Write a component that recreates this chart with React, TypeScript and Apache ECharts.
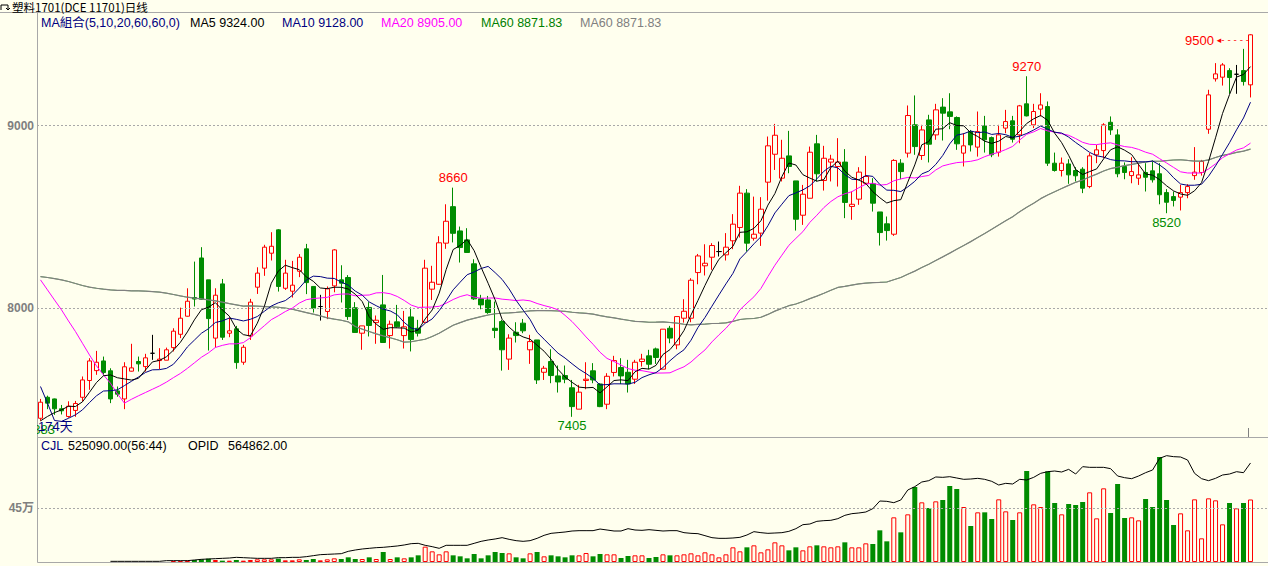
import { useEffect, useRef } from 'react';
import * as echarts from 'echarts';

const BG = '#FFFFEE';
const RED = '#FF0000';
const GREEN = '#008C00';
const NAVY = '#000080';
const FRAME = '#A8A8A8';
const FONT = '"Liberation Sans", Arial, sans-serif';
const CJK = '"Noto Sans CJK SC", sans-serif';

const opens = [7397,7512,7503,7449,7407,7440,7512,7604,7658,7711,
7657,7547,7503,7655,7708,7680,7753,7713,7715,7784,
7857,7956,8058,8275,8155,7836,8133,7863,7887,7704,
7848,8115,8219,8301,8429,8109,8093,8202,8325,8119,
8009,7982,8122,8155,8168,8002,7863,8004,7921,8018,
7850,7925,7850,7952,7890,7923,8104,8131,8356,8556,
8423,8374,8243,8051,8045,7890,7927,7721,7868,7918,
7772,7826,7649,7708,7629,7631,7564,7447,7604,7657,
7585,7474,7648,7675,7649,7611,7708,7739,7777,7666,
7890,7799,7945,7945,8195,8232,8279,8310,8292,8369,
8442,8630,8383,8411,8690,8843,8712,8834,8697,8509,
8602,8900,8699,8800,8776,8800,8557,8597,8684,8681,
8527,8462,8405,8794,8849,9004,8836,9031,8949,9101,
9075,9044,8849,8967,8882,8998,8934,8854,8986,9026,
8949,9119,9004,9090,9104,8794,8754,8790,8754,8761,
8666,8840,8863,9018,8949,8776,8726,8712,8743,8752,
8736,8633,8611,8608,8633,8726,8743,8980,9256,9265,
9301,9281,9301,9223];

const closes = [7485,7480,7449,7438,7463,7478,7607,7711,7704,7648,
7503,7529,7679,7673,7695,7728,7753,7721,7772,7874,
7945,8038,8050,8049,7943,8071,7841,7876,7702,7786,
8033,8192,8334,8339,8119,8192,8126,8279,8140,8000,
8009,8106,8319,8137,7954,7867,7903,7905,7934,7812,
7912,7898,7898,7828,7863,8219,8142,8358,8476,8410,
8332,8305,8051,8018,7976,7878,7772,7836,7850,7876,
7817,7607,7671,7631,7596,7611,7461,7540,7611,7607,
7461,7627,7713,7629,7585,7704,7721,7693,7730,7885,
7836,7954,7983,8153,8286,8246,8343,8310,8334,8460,
8630,8356,8405,8542,8889,8947,8821,8776,8487,8624,
8854,8736,8821,8816,8800,8579,8569,8745,8721,8575,
8414,8425,8809,8748,9055,8885,8976,8898,9086,9068,
9050,8900,8889,8894,8967,8922,8840,8949,9022,8925,
9108,9053,9077,9113,8794,8754,8794,8730,8725,8657,
8834,8867,9004,8976,8736,8743,8748,8730,8717,8703,
8621,8580,8590,8633,8666,8745,8803,9168,9283,9332,
9263,9281,9241,9497];

const lows = [7383,7447,7416,7418,7400,7405,7489,7553,7635,7630,
7480,7515,7447,7653,7653,7653,7717,7666,7715,7763,
7836,7954,8009,8045,7768,7784,7826,7841,7668,7690,
7826,8078,8177,8261,8091,8100,8058,8170,8077,7976,
7932,7940,8087,8031,7936,7867,7772,7845,7805,7812,
7779,7894,7779,7763,7845,7918,8045,8128,8325,8360,
8250,8305,8045,7994,7969,7836,7658,7662,7812,7863,
7695,7585,7607,7589,7538,7589,7405,7447,7556,7589,
7458,7447,7626,7585,7538,7585,7680,7666,7695,7666,
7808,7775,7921,7923,8131,8179,8210,8283,8261,8323,
8387,8310,8370,8341,8589,8757,8694,8739,8425,8456,
8602,8694,8644,8694,8666,8493,8484,8566,8675,8529,
8343,8370,8396,8706,8825,8840,8812,8798,8922,8918,
8980,8867,8776,8858,8830,8852,8827,8830,8958,8907,
8903,9050,8986,9050,8779,8748,8721,8681,8694,8630,
8657,8794,8821,8949,8717,8706,8684,8675,8639,8688,
8569,8520,8557,8535,8602,8703,8726,8955,9241,9219,
9174,9174,9219,9154];

const highs = [7503,7521,7505,7470,7490,7492,7626,7726,7766,7735,
7671,7571,7704,7805,7735,7750,7854,7781,7784,7890,
8003,8109,8255,8334,8155,8109,8160,7949,7903,7799,
8051,8224,8347,8416,8433,8265,8259,8296,8352,8119,
8073,8119,8323,8235,8181,8033,7903,8033,7960,8182,
7932,8018,7985,8004,7936,8265,8232,8394,8569,8660,
8447,8438,8268,8073,8067,8036,7936,7857,7923,7941,
7854,7826,7684,7775,7686,7686,7607,7580,7704,7699,
7589,7644,7739,7726,7717,7717,7750,7772,7784,7885,
7903,7954,8049,8164,8297,8350,8356,8365,8411,8515,
8670,8652,8611,8608,8940,9009,8922,8971,8697,8675,
8885,8949,8889,8840,8931,8871,8639,8772,8834,8712,
8527,8502,8816,8816,9110,9165,9004,9059,9119,9150,
9177,9050,8958,8976,9077,9053,8940,9004,9086,9053,
9113,9270,9119,9177,9132,8852,8825,8816,8772,8772,
8849,8894,9013,9050,8980,8798,8827,8794,8794,8809,
8794,8652,8639,8675,8679,8882,8812,9196,9342,9342,
9314,9332,9420,9500];

const volumes = [0,0,0,0,0,0,0,0,0,0,
0,0,0,0,0,0,0,0,0,8400,
8400,11200,16800,22400,28000,16800,11200,11200,16800,11200,
16800,22400,22400,22400,28000,14000,14000,22400,16800,25200,
14000,22400,30800,25200,39200,25200,25200,39200,25200,84000,
25200,39200,30800,39200,56000,128800,89600,64400,89600,56000,
47600,30800,67200,30800,56000,84000,75600,72800,39200,30800,
72800,84000,47600,56000,47600,39200,56000,56000,75600,47600,
67200,64400,64400,33600,50400,56000,56000,33600,42000,64400,
56000,56000,64400,72800,56000,81200,64400,39200,64400,123200,
89600,123200,140000,81200,106400,165200,140000,98000,123200,98000,
131600,140000,131600,123200,131600,165200,123200,123200,156800,151200,
266000,173600,375200,249200,400400,630000,501200,453600,509600,520800,
638400,613200,462000,302400,417200,417200,361200,526400,425600,352800,
417200,764400,484400,462000,761600,495600,400400,487200,478800,504000,
585200,366800,618800,411600,655200,369600,375200,350000,529200,462000,
882000,520800,310800,408800,266000,526400,198800,534800,518000,316400,
495600,450800,495600,525090];

const opid = [null,null,null,null,null,null,null,null,null,null,
3800,3800,3800,3800,3800,3800,3800,3800,7600,7600,
7600,7600,11400,15200,17100,19000,20900,22800,26600,24700,
22800,20900,20900,20900,24700,24700,26600,26600,30400,36100,
41800,43700,45600,47500,60800,68400,74200,78000,81800,83700,
87500,91300,97000,104600,106500,95100,87500,78000,95100,95100,
95100,95100,106500,117900,125500,131200,138800,129300,121700,117900,
121700,135000,152100,163500,167300,171100,176800,178700,178700,178700,
188000,182500,176800,176800,190100,182500,180600,184400,180600,176800,
178700,178700,167300,163500,161600,150200,138800,135000,135000,136900,
140700,154000,173000,167300,163500,165400,167300,174900,190100,212900,
216700,232000,235800,237700,247200,266200,275700,279500,285200,304200,
347900,346000,338400,353600,410700,429700,456300,463900,485000,482900,
486700,479100,471500,473400,477200,471500,460100,439200,448700,444900,
471500,467700,482900,505700,515200,519000,513300,528500,501900,543800,
540000,540000,540000,532400,490500,481000,475300,490500,509500,524800,
591300,606500,600800,598900,581800,505700,475300,463900,477200,496200,
501900,515200,509500,564862];

// moving-average values before enough visible history exists
const ma5Head = [7383, 7407, 7428, 7443];
const ma10Head = [7571, 7480, 7385, 7380, 7397, 7416, 7443, 7483, 7520];
const ma20Head = [8155, 8100, 8045, 7991, 7930, 7872, 7808, 7744, 7684, 7635,
  7589, 7531, 7480, 7501, 7520, 7538, 7556, 7574, 7595];
const ma60Head = [8173,8168,8162,8155,8146,8135,8124,8115,8109,8104,
8100,8097,8097,8095,8095,8093,8091,8088,8082,8075,
8067,8060,8055,8051,8045,8040,8033,8025,8018,8011,
8013,8011,8009,8007,8005,8000,7994,7985,7976,7967,
7958,7947,7940,7934,7925,7900,7885,7872,7859,7848,
7838,7827,7814,7816,7823,7830,7845,7863,7885];

const priceTicks = [8000, 9000];
const volTicks = [450000];
const volTickLabels = ['45万'];
const peakIdx = [59, 141];
const troughIdx = [0, 76, 161];
const arrowIdx = 173;

const legendItems = [
  { text: 'MA組合(5,10,20,60,60,0)', color: NAVY, x: 41 },
  { text: 'MA5 9324.00', color: '#000000', x: 190 },
  { text: 'MA10 9128.00', color: NAVY, x: 282 },
  { text: 'MA20 8905.00', color: '#FF00FF', x: 381 },
  { text: 'MA60 8871.83', color: '#008000', x: 481 },
  { text: 'MA60 8871.83', color: '#808080', x: 580 },
];
const subItems = [
  { text: 'CJL', color: NAVY, x: 41 },
  { text: '525090.00(56:44)', color: '#000000', x: 68 },
  { text: 'OPID', color: '#000000', x: 188 },
  { text: '564862.00', color: '#000000', x: 228 },
];

function movingAvg(n: number, head: number[]) {
  return closes.map((_, i) => {
    if (i < n - 1) return head[i];
    let s = 0;
    for (let k = i - n + 1; k <= i; k++) s += closes[k];
    return +(s / n).toFixed(2);
  });
}

function buildOption() {
  const N = closes.length;
  const cats = Array.from({ length: N + 2 }, (_, i) => 'D' + (i + 1));
  const candleData = opens.map((o, i) => [o, closes[i], lows[i], highs[i]]);
  const volData = volumes.map((v, i) => {
    const up = closes[i] >= opens[i];
    return {
      value: v === 0 ? null : v,
      itemStyle: up
        ? { color: BG, borderColor: RED, borderWidth: 1 }
        : { color: GREEN, borderColor: GREEN, borderWidth: 0 },
    };
  });
  const lbl = { fontFamily: FONT, fontSize: 13 };
  const marks: any[] = [
    ...peakIdx.map((i) => ({
      coord: [i, highs[i]],
      label: { ...lbl, position: 'top', distance: 3, color: RED, formatter: String(highs[i]) },
    })),
    ...troughIdx.map((i) => ({
      coord: [i, lows[i]],
      label: { ...lbl, position: 'bottom', distance: 2, color: GREEN, formatter: String(lows[i]) },
    })),
    {
      coord: [arrowIdx, highs[arrowIdx]],
      label: {
        position: 'left', distance: 1, offset: [0, 6],
        formatter: `{t|${highs[arrowIdx]}}{a| ◂- - - - -}`,
        rich: {
          t: { color: RED, fontSize: 13, fontFamily: FONT },
          a: { color: RED, fontSize: 9, fontFamily: '"DejaVu Sans", sans-serif' },
        },
      },
    },
  ];
  const maLine = (name: string, data: number[], color: string, z: number, width = 1) => ({
    name, type: 'line', xAxisIndex: 0, yAxisIndex: 0, data, symbol: 'none', showSymbol: false,
    lineStyle: { color, width }, itemStyle: { color }, z, silent: true,
  });
  const ma60 = movingAvg(60, ma60Head);

  const graphic: any[] = [
    { type: 'line', shape: { x1: 0, y1: 12.5, x2: 1268, y2: 12.5 }, style: { stroke: FRAME, lineWidth: 1 } },
    { type: 'line', shape: { x1: 37.5, y1: 12.5, x2: 37.5, y2: 562.5 }, style: { stroke: FRAME, lineWidth: 1 } },
    { type: 'line', shape: { x1: 37.5, y1: 437.5, x2: 1268, y2: 437.5 }, style: { stroke: FRAME, lineWidth: 1 } },
    { type: 'line', shape: { x1: 37.5, y1: 562.5, x2: 1268, y2: 562.5 }, style: { stroke: FRAME, lineWidth: 1 } },
    { type: 'line', shape: { x1: 1248.5, y1: 428, x2: 1248.5, y2: 437 }, style: { stroke: '#808080', lineWidth: 1 } },
    { type: 'line', shape: { x1: 1248.5, y1: 553, x2: 1248.5, y2: 562 }, style: { stroke: '#808080', lineWidth: 1 } },
    { type: 'polyline', shape: { points: [[1, 10], [1, 5], [8, 5], [8, 10]] }, style: { stroke: '#000', lineWidth: 1, fill: 'none' } },
    { type: 'polyline', shape: { points: [[6, 8], [8, 10], [10, 8]] }, style: { stroke: '#000', lineWidth: 1, fill: 'none' } },
    { type: 'text', x: 12, y: 1, style: { text: '塑料1701(DCE 11701)日线', fill: '#000', fontSize: 11.5, fontFamily: CJK } },
    ...legendItems.map((it) => ({
      type: 'text', x: it.x, y: 17, style: { text: it.text, fill: it.color, fontSize: 12.5, fontFamily: FONT + ',' + CJK },
    })),
    ...subItems.map((it) => ({
      type: 'text', x: it.x, y: 439, style: { text: it.text, fill: it.color, fontSize: 12.5, fontFamily: FONT },
    })),
    { type: 'rect', shape: { x: 0, y: 416, width: 37, height: 20 }, style: { fill: BG }, z: 100 },
    { type: 'text', x: 38, y: 420, z: 101, style: { text: '174天', fill: NAVY, fontSize: 13, fontFamily: FONT + ',' + CJK } },
  ];

  return {
    animation: false,
    backgroundColor: BG,
    textStyle: { fontFamily: FONT },
    grid: [
      { left: 37, top: 16, width: 1232, height: 420 },
      { left: 37, top: 437, width: 1232, height: 125 },
    ],
    xAxis: [
      { type: 'category', gridIndex: 0, data: cats, boundaryGap: true, show: false },
      { type: 'category', gridIndex: 1, data: cats, boundaryGap: true, show: false },
    ],
    yAxis: [
      {
        type: 'value', gridIndex: 0, min: 7300, max: 9600, interval: 100,
        axisLine: { show: false }, axisTick: { show: false }, splitLine: { show: false },
        axisLabel: {
          margin: 3, color: '#808080', fontWeight: 'bold', fontSize: 12, fontFamily: FONT,
          formatter: (v: number) => (priceTicks.some((t) => Math.abs(t - v) < 1e-6) ? String(Math.round(v)) : ''),
        },
      },
      {
        type: 'value', gridIndex: 1, min: 0, max: 1050000, interval: 50000,
        axisLine: { show: false }, axisTick: { show: false }, splitLine: { show: false },
        axisLabel: {
          margin: 3, color: '#808080', fontWeight: 'bold', fontSize: 12, fontFamily: FONT + ',' + CJK,
          formatter: (v: number) => {
            const k = volTicks.findIndex((t) => Math.abs(t - v) < 1e-6);
            return k >= 0 ? volTickLabels[k] : '';
          },
        },
      },
      { type: 'value', gridIndex: 1, min: 0, max: 713000, show: false },
    ],
    series: [
      {
        name: 'K', type: 'candlestick', xAxisIndex: 0, yAxisIndex: 0, data: candleData, barWidth: 5,
        itemStyle: {
          color: BG, color0: GREEN, borderColor: RED, borderColor0: GREEN, borderColorDoji: '#000000', borderWidth: 1,
        },
        z: 2,
        markLine: {
          silent: true, symbol: 'none', label: { show: false },
          lineStyle: { color: '#A8A8A8', type: [2, 2], width: 1 },
          data: priceTicks.map((t) => ({ yAxis: t })),
        },
        markPoint: {
          symbol: 'rect', symbolSize: 1, itemStyle: { color: 'rgba(0,0,0,0)' },
          label: { show: true }, data: marks, silent: true,
        },
      },
      maLine('MA60b', ma60, '#008000', 3, 0.6),
      maLine('MA60', ma60, '#808080', 4, 1.2),
      maLine('MA20', movingAvg(20, ma20Head), '#FF00FF', 5),
      maLine('MA10', movingAvg(10, ma10Head), NAVY, 6),
      maLine('MA5', movingAvg(5, ma5Head), '#000000', 7),
      {
        name: 'CJL', type: 'bar', xAxisIndex: 1, yAxisIndex: 1, data: volData, barWidth: 5, z: 2,
        markLine: {
          silent: true, symbol: 'none', label: { show: false },
          lineStyle: { color: '#A8A8A8', type: [2, 2], width: 1 },
          data: volTicks.map((t) => ({ yAxis: t })),
        },
      },
      {
        name: 'OPID', type: 'line', xAxisIndex: 1, yAxisIndex: 2, data: opid, symbol: 'none', showSymbol: false,
        lineStyle: { color: '#000000', width: 1 }, z: 5, silent: true,
      },
    ],
    graphic,
  };
}

export default function App() {
  const ref = useRef<HTMLDivElement>(null);
  useEffect(() => {
    const chart = echarts.init(ref.current!, null, { renderer: 'svg' });
    chart.setOption(buildOption() as any);
    return () => chart.dispose();
  }, []);
  return <div ref={ref} style={{ position: 'absolute', left: 0, top: 0, width: 1268, height: 566 }} />;
}
